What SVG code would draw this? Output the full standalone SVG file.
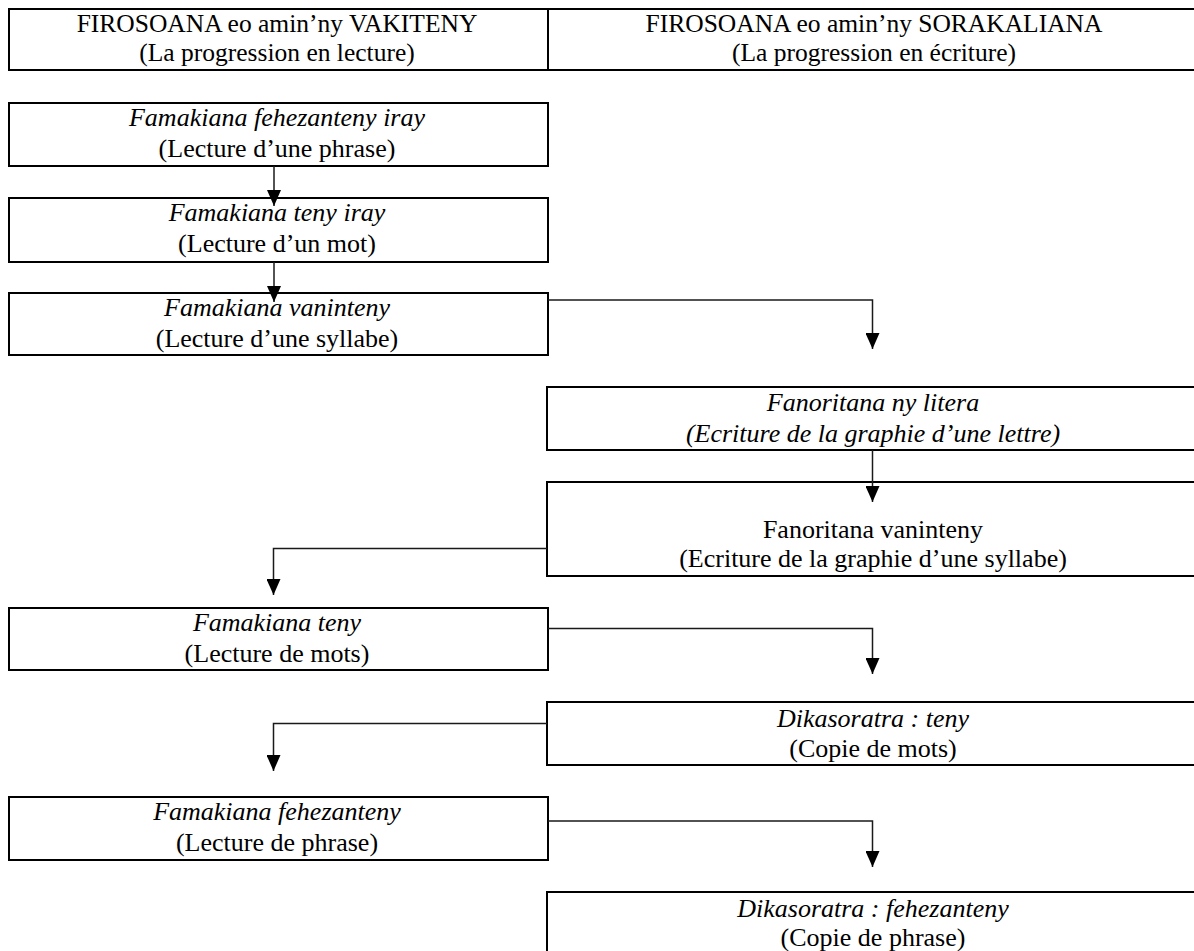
<svg xmlns="http://www.w3.org/2000/svg" width="1194" height="951" viewBox="0 0 1194 951">
<style>
  .box { fill: #ffffff; stroke: #000000; stroke-width: 2; }
  .t { font-family: "Liberation Serif", "Times New Roman", serif; font-size: 26px; fill: #000000; text-anchor: middle; }
  .h { font-size: 25.5px; }
  .i { font-style: italic; }
  .c { fill: none; stroke: #1a1a1a; stroke-width: 1.5; }
</style>
<defs>
  <marker id="arr" markerUnits="userSpaceOnUse" markerWidth="16" markerHeight="14" refX="16" refY="7" orient="auto" viewBox="0 0 16 14">
    <path d="M0,0 L16,7 L0,14 Z" fill="#000000"/>
  </marker>
</defs>
<rect width="1194" height="951" fill="#ffffff"/>

<g id="header">
  <rect class="box" x="9" y="9" width="1200" height="61"/>
  <line x1="548" y1="9" x2="548" y2="70" stroke="#000" stroke-width="2"/>
  <text class="t h" x="277" y="32">FIROSOANA eo amin’ny VAKITENY</text>
  <text class="t h" x="277" y="60.5">(La progression en lecture)</text>
  <text class="t h" x="874" y="32">FIROSOANA eo amin’ny SORAKALIANA</text>
  <text class="t h" x="874" y="60.5">(La progression en écriture)</text>
</g>

<g id="n1">
  <rect class="box" x="9" y="103" width="539" height="63"/>
  <text class="t i" x="277" y="125.5">Famakiana fehezanteny iray</text>
  <text class="t" x="277" y="156.5">(Lecture d’une phrase)</text>
</g>
<g id="n2">
  <rect class="box" x="9" y="198" width="539" height="64"/>
  <text class="t i" x="277" y="220.5">Famakiana teny iray</text>
  <text class="t" x="277" y="251.5">(Lecture d’un mot)</text>
</g>
<g id="n3">
  <rect class="box" x="9" y="293" width="539" height="62"/>
  <text class="t i" x="277" y="316">Famakiana vaninteny</text>
  <text class="t" x="277" y="346.5">(Lecture d’une syllabe)</text>
</g>
<g id="r1">
  <rect class="box" x="547" y="387" width="660" height="63"/>
  <text class="t i" x="873" y="411">Fanoritana ny litera</text>
  <text class="t i" x="873" y="441.5">(Ecriture de la graphie d’une lettre)</text>
</g>
<g id="r2">
  <rect class="box" x="547" y="482" width="660" height="94"/>
  <text class="t" x="873" y="537.5">Fanoritana vaninteny</text>
  <text class="t" x="873" y="567">(Ecriture de la graphie d’une syllabe)</text>
</g>
<g id="n4">
  <rect class="box" x="9" y="608" width="539" height="62"/>
  <text class="t i" x="277" y="630.5">Famakiana teny</text>
  <text class="t" x="277" y="661.5">(Lecture de mots)</text>
</g>
<g id="r3">
  <rect class="box" x="547" y="702" width="660" height="63"/>
  <text class="t i" x="873" y="726.5">Dikasoratra : teny</text>
  <text class="t" x="873" y="756.5">(Copie de mots)</text>
</g>
<g id="n5">
  <rect class="box" x="9" y="797" width="539" height="63"/>
  <text class="t i" x="277" y="820">Famakiana fehezanteny</text>
  <text class="t" x="277" y="851">(Lecture de phrase)</text>
</g>
<g id="r4">
  <rect class="box" x="547" y="892" width="660" height="100"/>
  <text class="t i" x="873" y="916.5">Dikasoratra : fehezanteny</text>
  <text class="t" x="873" y="946">(Copie de phrase)</text>
</g>

<g id="connectors">
  <path class="c" d="M274,166 V206" marker-end="url(#arr)"/>
  <path class="c" d="M274,262 V302" marker-end="url(#arr)"/>
  <path class="c" d="M548,300 H872.5 V349" marker-end="url(#arr)"/>
  <path class="c" d="M872.5,450 V502" marker-end="url(#arr)"/>
  <path class="c" d="M547,548.5 H273.5 V595" marker-end="url(#arr)"/>
  <path class="c" d="M548,628.5 H872.5 V674" marker-end="url(#arr)"/>
  <path class="c" d="M547,723.5 H273.5 V771" marker-end="url(#arr)"/>
  <path class="c" d="M548,821 H872.5 V867" marker-end="url(#arr)"/>
</g>
</svg>
